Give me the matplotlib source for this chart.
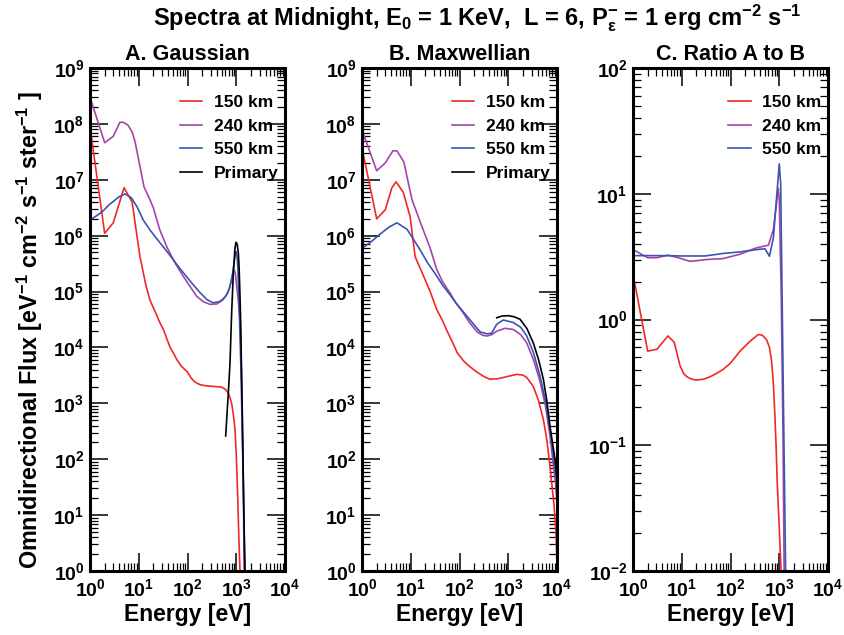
import numpy as np
import matplotlib
matplotlib.use("Agg")
import matplotlib.pyplot as plt
from matplotlib.ticker import LogLocator, NullFormatter

plt.rcParams['font.family'] = ['Liberation Sans', 'DejaVu Sans']
plt.rcParams['font.weight'] = 'bold'
plt.rcParams['mathtext.fontset'] = 'custom'
plt.rcParams['mathtext.rm'] = 'Liberation Sans:bold'
plt.rcParams['mathtext.it'] = 'Liberation Sans:bold'
plt.rcParams['mathtext.bf'] = 'Liberation Sans:bold'
plt.rcParams['mathtext.sf'] = 'Liberation Sans:bold'
plt.rcParams['mathtext.default'] = 'rm'

RED = '#f02828'
PURPLE = '#a545a8'
BLUE = '#3a55b0'

# --- A. Gaussian source spectra ---
ga_e_150 = [1, 2.0, 3.0, 5.0, 7.3, 10.6, 14, 17, 20, 23, 27, 32, 38, 44, 52, 60, 75, 98, 120, 143,
            182, 250, 366, 500, 590, 700, 805, 870, 942, 1000, 1070, 1130, 1194]
ga_f_150 = [9e7, 1.1e6, 1.7e6, 7.2e6, 4.0e6, 4.2e5, 1.3e5, 7e4, 5.1e4, 3.9e4, 2.8e4, 2.1e4, 1.4e4,
            1e4, 7.8e3, 6.1e3, 4.6e3, 3.7e3, 2.8e3, 2.4e3, 2.15e3, 2.05e3, 2.0e3, 1.95e3, 1.8e3,
            1.5e3, 1.0e3, 640, 345, 120, 22, 4, 1]
ga_e_240 = [1, 2.0, 3.0, 4.1, 4.8, 6.0, 7.3, 8.4, 10.5, 12.8, 17, 20, 27, 38, 55, 81, 115, 155, 210,
            290, 400, 540, 620, 710, 800, 870, 912, 960, 1050, 1120, 1200, 1300, 1400, 1450]
ga_f_240 = [3e8, 4.6e7, 6e7, 1.07e8, 1.07e8, 9.5e7, 7.2e7, 4.8e7, 1.8e7, 7.5e6, 4.4e6, 3.1e6, 1.27e6,
            6.2e5, 3.3e5, 1.9e5, 1.2e5, 8.2e4, 6.6e4, 5.9e4, 6.0e4, 7.2e4, 8.5e4, 1.1e5, 1.6e5,
            2.2e5, 2.4e5, 2.1e5, 1e5, 6e4, 3e4, 2e3, 30, 1]
ga_e_550 = [1, 1.5, 1.87, 2.5, 3.0, 4.0, 5.2, 7.0, 9.2, 12.4, 17, 25, 38, 55, 81, 120, 180, 250, 335,
            450, 540, 650, 740, 850, 930, 980, 1020, 1080, 1150, 1250, 1350, 1450, 1500]
ga_f_550 = [1.9e6, 2.4e6, 2.8e6, 3.6e6, 4.1e6, 5.0e6, 5.6e6, 4.8e6, 3.3e6, 1.9e6, 1.26e6, 8.2e5, 5.2e5,
            3.4e5, 2.2e5, 1.45e5, 9.6e4, 7.2e4, 6.3e4, 6.6e4, 7.4e4, 9e4, 1.2e5, 2.2e5, 4.0e5,
            5.2e5, 4.9e5, 2.8e5, 5e4, 4e3, 150, 5, 1]
ga_e_prim = [607, 688, 745, 805, 871, 942, 988, 1020, 1050, 1104, 1150, 1194, 1240, 1292, 1340, 1397, 1450, 1512]
ga_f_prim = [261, 1550, 5360, 4.2e4, 2.15e5, 6e5, 7.6e5, 7.4e5, 6.8e5, 4.9e5, 2.4e5, 8.3e4, 2.2e4,
             2.7e3, 450, 44, 6, 1]

# --- B. Maxwellian source spectra ---
mx_e_150 = [1, 2.0, 3.0, 4.1, 5.0, 7.0, 9.7, 12.3, 17, 25, 34, 45, 55, 70, 90, 120, 150, 230, 320, 420,
            600, 930, 1490, 2000, 2400, 3270, 4200, 5250, 6200, 7180, 8000, 8700, 9500, 9800, 10000]
mx_f_150 = [3.7e7, 2e6, 2.9e6, 7.2e6, 9.2e6, 6e6, 2.2e6, 4.2e5, 2.2e5, 1.0e5, 4.8e4, 3e4, 2e4, 1.3e4,
            8e3, 5.8e3, 4.8e3, 3.6e3, 3.0e3, 2.7e3, 2.75e3, 3.0e3, 3.3e3, 3.2e3, 2.9e3, 2.0e3,
            1.1e3, 515, 220, 76, 30, 15, 5, 2.2, 1.2]
mx_e_240 = [1, 2.0, 3.0, 4.3, 5.2, 7.2, 10.6, 17, 25, 34, 45, 63, 85, 118, 160, 230, 300, 370, 460,
            580, 860, 1260, 1800, 2400, 3300, 4470, 5800, 7180, 8400, 9500, 10000]
mx_f_240 = [7.8e7, 1.45e7, 2e7, 3.3e7, 3.3e7, 2.1e7, 4.4e6, 1.45e6, 6e5, 2.5e5, 1.5e5, 9.6e4, 6.2e4,
            4.2e4, 2.8e4, 1.9e4, 1.65e4, 1.6e4, 1.7e4, 1.95e4, 2.2e4, 2.1e4, 1.7e4, 1.2e4, 6e3,
            2.5e3, 900, 260, 80, 33, 15]
mx_e_550 = [1, 1.6, 2.3, 3.5, 5.2, 8.4, 11, 15.5, 22, 34, 45, 63, 85, 118, 170, 265, 370, 458, 520,
            580, 790, 1260, 1800, 2400, 3300, 4470, 5800, 7180, 8400, 9500, 10000]
mx_f_550 = [5.9e5, 8e5, 1.05e6, 1.4e6, 1.7e6, 1.3e6, 9e5, 5.6e5, 3.3e5, 1.9e5, 1.3e5, 8.9e4, 6.2e4,
            4.4e4, 3e4, 1.9e4, 1.75e4, 1.8e4, 2.2e4, 2.6e4, 3.1e4, 2.8e4, 2.3e4, 1.6e4, 8e3, 3.1e3,
            1.1e3, 345, 120, 50, 21]
mx_e_prim = [580, 750, 1000, 1300, 1740, 2400, 3270, 4200, 5250, 6200, 7180, 8200, 9100, 10000]
mx_f_prim = [3.4e4, 3.65e4, 3.7e4, 3.55e4, 3.2e4, 2.2e4, 1.2e4, 6e3, 2.7e3, 1.1e3, 390, 180, 100, 44]

# --- C. ratio of Gaussian to Maxwellian ---
rt_e_150 = [1, 2.0, 3.1, 5.2, 7.0, 9.2, 11, 12.8, 16, 20, 28, 38, 50, 70, 100, 157, 250, 372, 450,
            550, 630, 700, 760, 815, 860, 910, 1000, 1090]
rt_f_150 = [2.3, 0.56, 0.58, 0.74, 0.66, 0.43, 0.37, 0.35, 0.335, 0.33, 0.335, 0.35, 0.37, 0.40,
            0.45, 0.56, 0.67, 0.76, 0.75, 0.69, 0.6, 0.46, 0.3, 0.17, 0.1, 0.05, 0.022, 0.01]
rt_e_240 = [1, 2.0, 3.1, 5.2, 8.5, 14.7, 33, 70, 155, 330, 600, 760, 955, 1000, 1100, 1200, 1260]
rt_f_240 = [3.6, 3.1, 3.1, 3.25, 3.1, 2.9, 3.0, 3.05, 3.3, 3.7, 3.9, 5.2, 11.1, 9, 1.5, 0.1, 0.01]
rt_e_550 = [1, 2, 5, 10, 30, 70, 157, 350, 510, 630, 760, 1000, 1070, 1180, 1350]
rt_f_550 = [3.22, 3.22, 3.22, 3.2, 3.2, 3.35, 3.45, 3.6, 3.65, 3.18, 4.5, 17.3, 12, 0.58, 0.01]

W, H = 844, 635
fig = plt.figure(figsize=(W / 100, H / 100), dpi=100)


def make_axes(left_px, ylo, yhi):
    ax = fig.add_axes([left_px / W, 64 / H, 195 / W, 503 / H])
    ax.set_xscale('log')
    ax.set_yscale('log')
    ax.set_xlim(1, 1e4)
    ax.set_ylim(10.0 ** ylo, 10.0 ** yhi)
    for s in ax.spines.values():
        s.set_linewidth(2.2)
    # decade ticks only inside the view, plus 2..9 minor ticks
    ax.set_xticks(10.0 ** np.arange(0, 5))
    ax.set_yticks(10.0 ** np.arange(ylo, yhi + 1))
    ax.xaxis.set_minor_locator(LogLocator(base=10, subs=np.arange(2, 10), numticks=100))
    ax.yaxis.set_minor_locator(LogLocator(base=10, subs=np.arange(2, 10), numticks=100))
    ax.xaxis.set_minor_formatter(NullFormatter())
    ax.yaxis.set_minor_formatter(NullFormatter())
    ax.set_xlim(1, 1e4)
    ax.set_ylim(10.0 ** ylo, 10.0 ** yhi)
    ax.tick_params(which='both', direction='in', top=True, right=True)
    ax.tick_params(which='major', length=13, width=1.1, labelsize=14, pad=4)
    ax.tick_params(axis='x', which='major', pad=5)
    ax.tick_params(which='minor', length=6, width=0.9)
    ax.set_xlabel('Energy [eV]', fontsize=16.5, fontweight='bold', labelpad=2)
    return ax


lw = 1.2

axA = make_axes(90, 0, 9)
axA.plot(ga_e_150, ga_f_150, color=RED, lw=lw, label='150 km')
axA.plot(ga_e_240, ga_f_240, color=PURPLE, lw=lw, label='240 km')
axA.plot(ga_e_550, ga_f_550, color=BLUE, lw=lw, label='550 km')
axA.plot(ga_e_prim, ga_f_prim, color='black', lw=lw, label='Primary')
axA.set_title('A. Gaussian', fontsize=15.5, fontweight='bold', pad=6)

axB = make_axes(362, 0, 9)
axB.plot(mx_e_150, mx_f_150, color=RED, lw=lw, label='150 km')
axB.plot(mx_e_240, mx_f_240, color=PURPLE, lw=lw, label='240 km')
axB.plot(mx_e_550, mx_f_550, color=BLUE, lw=lw, label='550 km')
axB.plot(mx_e_prim, mx_f_prim, color='black', lw=lw, label='Primary')
axB.set_title('B. Maxwellian', fontsize=15.5, fontweight='bold', pad=6)

axC = make_axes(633, -2, 2)
axC.plot(rt_e_150, rt_f_150, color=RED, lw=lw, label='150 km')
axC.plot(rt_e_240, rt_f_240, color=PURPLE, lw=lw, label='240 km')
axC.plot(rt_e_550, rt_f_550, color=BLUE, lw=lw, label='550 km')
axC.set_title('C. Ratio A to B', fontsize=15.5, fontweight='bold', pad=6)

for ax, x0 in ((axA, 0.46), (axB, 0.46), (axC, 0.487)):
    ax.legend(loc='upper left', bbox_to_anchor=(x0, 0.947), frameon=False, fontsize=12.5,
              handlelength=1.3, handletextpad=0.65, labelspacing=0.5, borderpad=0, borderaxespad=0)

fig.text(30 / W, 1 - 330 / H,
         r'Omnidirectional Flux [eV$^{-1}$ cm$^{-2}$ s$^{-1}$ ster$^{-1}$ ]',
         rotation=90, ha='center', va='center', fontsize=16.8, fontweight='bold')

fig.text(477 / W, 1 - 18 / H,
         r'Spectra at Midnight, E$_0$ = 1 KeV,  L = 6, P$_{ε}^{-}$ = 1 erg cm$^{-2}$ s$^{-1}$',
         ha='center', va='center', fontsize=17, fontweight='bold')

fig.savefig('out.png', dpi=100)
